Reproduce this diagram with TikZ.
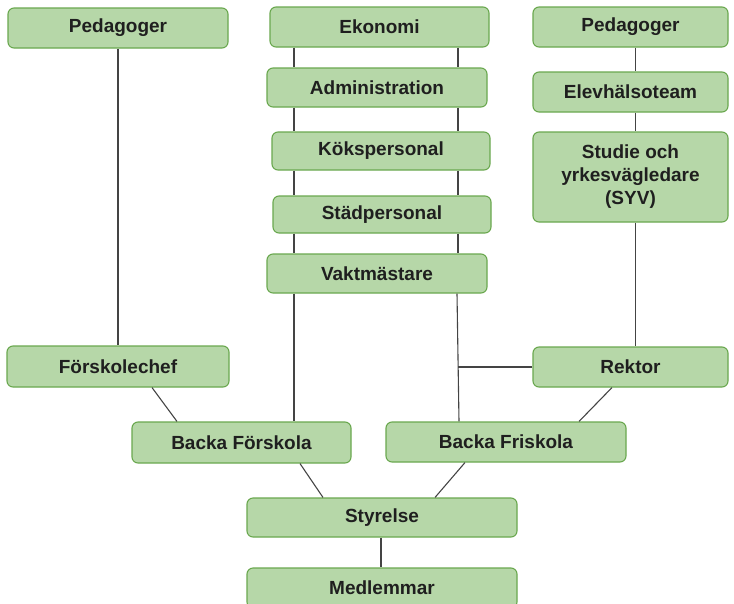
\documentclass[tikz,border=0pt]{standalone}
\usepackage{fontspec}
\setmainfont{Liberation Sans}
\usetikzlibrary{calc}

\definecolor{boxgreen}{HTML}{B6D7A8}
\definecolor{boxedge}{HTML}{6AA84F}
\definecolor{linegray}{HTML}{444444}

\begin{document}
\begin{tikzpicture}[x=1pt, y=-1pt,
		ruta/.style={draw=boxedge, fill=boxgreen, line width=1.1pt, rounded corners=6pt,
			minimum height=40pt, inner sep=0pt, align=center, text=black!88,
			font=\fontsize{19}{23}\selectfont\bfseries},
		linje/.style={draw=linegray, line width=1.1pt}]
		\useasboundingbox (0, 0) rectangle (734, 603);
		
		% Vänster kolumn
		\node[ruta, minimum width=220pt] (ped1) at (118, 28) {Pedagoger};
		\node[ruta, minimum width=222pt, minimum height=41pt] (fchef) at (118, 366.5) {Förskolechef};
		
		% Mittkolumn
		\node[ruta, minimum width=219pt] (ekon) at (379.5, 27) {Ekonomi};
		\node[ruta, minimum width=220pt, minimum height=39pt] (admin) at (377, 87.5) {Administration};
		\node[ruta, minimum width=218pt, minimum height=38pt] (kok) at (381, 151) {Kökspersonal};
		\node[ruta, minimum width=218pt, minimum height=37pt] (stad) at (382, 214.5) {Städpersonal};
		\node[ruta, minimum width=220pt, minimum height=39pt] (vakt) at (377, 273.5) {Vaktmästare};
		
		% Höger kolumn
		\node[ruta, minimum width=195pt] (ped2) at (630.5, 27) {Pedagoger};
		\node[ruta, minimum width=195pt] (elev) at (630.5, 92) {Elevhälsoteam};
		\node[ruta, minimum width=195pt, minimum height=90pt] (syv) at (630.5, 177) {Studie och\\yrkesvägledare\\(SYV)};
		\node[ruta, minimum width=195pt] (rektor) at (630.5, 367) {Rektor};
		
		% Skolorna och styrelsen
		\node[ruta, minimum width=219pt, minimum height=41pt] (bfors) at (241.5, 442.5) {Backa Förskola};
		\node[ruta, minimum width=240pt] (bfris) at (506, 442) {Backa Friskola};
		\node[ruta, minimum width=270pt, minimum height=39pt] (styr) at (382, 517.5) {Styrelse};
		\node[ruta, minimum width=270pt] (medl) at (382, 588) {Medlemmar};
		
		% Linjer
		\draw[linje] (ped1) -- (fchef);
		\foreach \a/\b in {ekon/admin, admin/kok, kok/stad, stad/vakt, vakt/bfors}{
			\draw[linje] (\a.south -| 294, 0) -- (\b.north -| 294, 0);
			}
		\foreach \a/\b in {ekon/admin, admin/kok, kok/stad, stad/vakt}{
			\draw[linje] (\a.south -| 458, 0) -- (\b.north -| 458, 0);
			}
		\draw[linje] (vakt.south -| 457, 0) -- (bfris.north -| 459, 0);
		\coordinate (knut) at (rektor.west -| 458, 0);
		\draw[linje] (rektor.west) -- (knut);
		\foreach \a/\b in {ped2/elev, elev/syv, syv/rektor}{
			\draw[linje] (\a.south -| 635.5, 0) -- (\b.north -| 635.5, 0);
			}
		\draw[linje] (fchef.south -| 152, 0) -- (bfors.north -| 177, 0);
		\draw[linje] (rektor.south -| 612, 0) -- (bfris.north -| 579, 0);
		\draw[linje] (bfors.south -| 300, 0) -- (styr.north -| 323, 0);
		\draw[linje] (bfris.south -| 465, 0) -- (styr.north -| 435, 0);
		\draw[linje] (styr.south -| 381, 0) -- (medl.north -| 381, 0);
	\end{tikzpicture}
\end{document}
